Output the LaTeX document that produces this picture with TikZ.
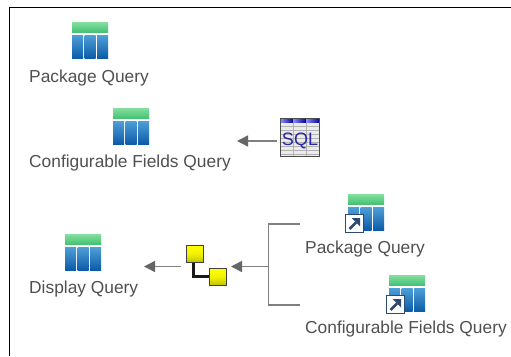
\documentclass[tikz,border=0pt]{standalone}
\usepackage{fontspec}
\setmainfont{Liberation Sans}
\usetikzlibrary{arrows.meta}
\definecolor{txt}{HTML}{505050}
\definecolor{lnk}{HTML}{808080}
\definecolor{tipc}{HTML}{666666}
\definecolor{gA}{HTML}{85DFA0}
\definecolor{gB}{HTML}{45C274}
\definecolor{bA}{HTML}{4F9FD8}
\definecolor{bB}{HTML}{0A5BA8}
\definecolor{scut}{HTML}{2F4A70}
\tikzset{
  x=1pt,y=-1pt,
  lbl/.style={anchor=west,inner sep=0pt,text=txt,font=\fontsize{17.35}{20}\selectfont},
  iconbox/.style={minimum width=36pt,minimum height=37pt,inner sep=0pt,anchor=north west},
  link/.style={draw=lnk,line width=1.4pt},
  arrowed/.style={link,-{Triangle[length=11pt,width=11pt,fill=tipc,color=tipc]}},
  yel/.style={draw=black!75,line width=1.5pt,top color=yellow,bottom color=yellow!75!black,middle color=yellow!95!black,minimum size=17pt,inner sep=0pt,anchor=north west}
}
\newcommand{\qicon}[3]{% name, x, y
  \node[iconbox] (#1) at (#2,#3) {};
  \begin{scope}[shift={(#2,#3)}]
    \shade[top color=gA,bottom color=gB] (0,0) rectangle (36,10);
    \shade[top color=bA,bottom color=bB] (0,13) rectangle (11,36.5);
    \shade[top color=bA,bottom color=bB] (12.6,13) rectangle (23.6,36.5);
    \shade[top color=bA,bottom color=bB] (25.2,13) rectangle (36,36.5);
  \end{scope}}
\newcommand{\shortcut}[2]{% x, y
  \begin{scope}[shift={(#1,#2)}]
    \fill[white] (0,0) rectangle (19,19);
    \draw[draw=scut,line width=1.1pt] (0.5,0.5) rectangle (18.5,18.5);
    \draw[line width=2.6pt,draw=scut] (4.5,15) -- (11,8.5);
    \fill[scut] (6.5,4) -- (15,4) -- (15,12.5) -- cycle;
  \end{scope}}
\begin{document}
\begin{tikzpicture}
\useasboundingbox (0,0) rectangle (511,356);
\fill[white] (0,0) rectangle (511,356);
\draw[black,line width=1.3pt] (9.5,356) -- (9.5,7.5) -- (511,7.5);

\qicon{pq}{72}{22}
\node[lbl] (pql) at (29,78) {Package Query};

\qicon{cq}{113}{108}
\node[lbl] (cql) at (29,163) {Configurable Fields Query};

\qicon{dq}{65}{234}
\node[lbl] (dql) at (29,289) {Display Query};

\qicon{spq}{348}{194}
\shortcut{345}{214}
\node[lbl] (spql) at (305,249) {Package Query};

\qicon{scq}{389}{275}
\shortcut{386}{295}
\node[lbl] (scql) at (305,329) {Configurable Fields Query};

% SQL icon
\node[minimum width=40pt,minimum height=39pt,inner sep=0pt,anchor=north west] (sql) at (280,118) {};
\begin{scope}[shift={(280,118)}]
  \fill[white] (0,0) rectangle (40,39);
  \fill[black!8] (0,4) rectangle (40,39);
  \foreach \yy in {8,12,...,36} \draw[black!30,line width=.5pt] (0,\yy) -- (40,\yy);
  \foreach \xx in {13,26} \draw[black!30,line width=.5pt] (\xx,4) -- (\xx,39);
  \shade[left color=blue!45!white,right color=blue!60!black] (0.5,0.5) rectangle (13,4);
  \shade[left color=blue!45!white,right color=blue!60!black] (13,0.5) rectangle (26,4);
  \shade[left color=blue!45!white,right color=blue!60!black] (26,0.5) rectangle (39.5,4);
  \draw[black!70,line width=1pt] (0.5,0.5) rectangle (39.5,38.5);
\end{scope}
\node[inner sep=0pt,text=blue!60!black!85,font=\fontsize{18}{20}\selectfont] (sqlt) at (300,141) {SQL};

% Yellow connector icon
\draw[black!90,line width=2.2pt] (193.5,262) |- (208.5,276.5);
\node[yel] (ya) at (185.5,244.5) {};
\node[yel] (yb) at (208.5,267.5) {};

% Connectors
\coordinate (c1) at (237,141);
\draw[arrowed] (sql.west |- c1) ++(-3,0) -- (c1);

\coordinate (btop) at (300,224);
\coordinate (bbot) at (300,305);
\coordinate (bmid) at (268.5,266.5);
\draw[link] (btop) -- (268.5,224) -- (268.5,305) -- (bbot);
\coordinate (c2) at (231,266.5);
\draw[arrowed] (bmid) -- (c2);
\coordinate (c3) at (181,266.5);
\coordinate (c4) at (144,266.5);
\draw[arrowed] (c3) -- (c4);
\end{tikzpicture}
\end{document}
